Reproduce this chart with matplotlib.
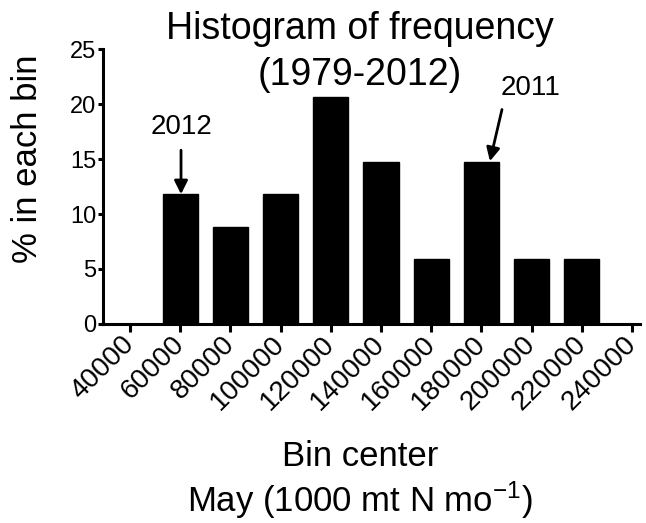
"""
Histogram of frequency (1979-2012), May bins
"""
import matplotlib
matplotlib.use('Agg')
import matplotlib.pyplot as plt

plt.rcParams['font.family'] = ['Liberation Sans', 'DejaVu Sans']
plt.rcParams['mathtext.fontset'] = 'custom'
plt.rcParams['mathtext.rm'] = 'Liberation Sans'
plt.rcParams['mathtext.it'] = 'Liberation Sans:italic'

# Data
bin_centers = [60000, 80000, 100000, 120000, 140000, 160000, 180000, 200000, 220000]
percent = [11.8, 8.8, 11.8, 20.6, 14.7, 5.9, 14.7, 5.9, 5.9]
x_ticks = [40000, 60000, 80000, 100000, 120000, 140000, 160000, 180000, 200000, 220000, 240000]
y_ticks = [0, 5, 10, 15, 20, 25]

# Year annotations: (label, label position, arrow tail, arrow tip)
notes = [
    ('2012', (60500, 17.9), (60300, 15.8), (60300, 11.8)),
    ('2011', (199400, 21.5), (188200, 19.5), (183400, 14.8)),
]

fig = plt.figure(figsize=(6.46, 5.23), dpi=100)
ax = fig.add_axes([0.1594, 0.3805, 0.8313, 0.5258])

ax.bar(bin_centers, percent, width=14000, color='black', edgecolor='black')

ax.set_xlim(29200, 243200)
ax.set_ylim(0, 25)
ax.set_xticks(x_ticks)
ax.set_yticks(y_ticks)
ax.set_xticklabels([str(t) for t in x_ticks], rotation=45, ha='right',
                   va='center', rotation_mode='anchor', fontsize=20)
ax.set_yticklabels([str(t) for t in y_ticks], fontsize=17)

for side in ['top', 'right']:
    ax.spines[side].set_visible(False)
for side in ['left', 'bottom']:
    ax.spines[side].set_linewidth(2.2)
ax.tick_params(axis='y', direction='out', length=3.8, width=2.2, pad=1)
ax.tick_params(axis='x', direction='out', length=5.5, width=2.2, pad=6)

# title: second line hangs down into the plot area, like the original
ax.set_title('Histogram of frequency', fontsize=27, x=0.479, y=1.007)
ax.text(0.479, 0.869, '(1979-2012)', fontsize=27, ha='center', va='baseline',
        transform=ax.transAxes)

ax.set_xlabel('Bin center\nMay (1000 mt N mo$^{-1}$)', fontsize=25, linespacing=1.18)
ax.xaxis.set_label_coords(0.479, -0.423)
ax.set_ylabel('% in each bin', fontsize=25)
ax.yaxis.set_label_coords(-0.11, 0.6)

for label, text_pos, tail, tip in notes:
    ax.text(text_pos[0], text_pos[1], label, fontsize=20, ha='center', va='center')
    ax.annotate('', xy=tip, xytext=tail,
                arrowprops=dict(arrowstyle='-|>', color='black', lw=2,
                                mutation_scale=20, shrinkA=0, shrinkB=0))

plt.savefig('out.png', dpi=100)
print("Saved out.png")
